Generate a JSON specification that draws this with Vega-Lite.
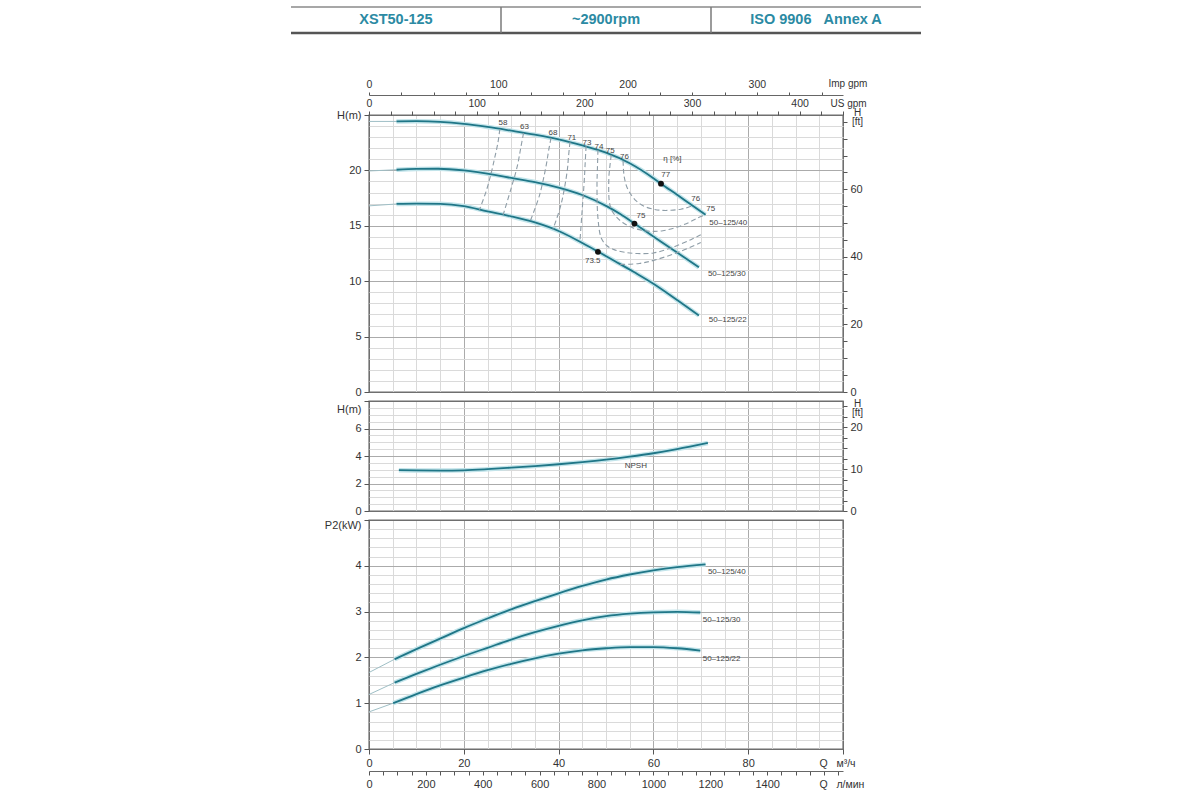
{
 "$schema": "https://vega.github.io/schema/vega-lite/v6.json",
 "padding": {"left": 289, "top": 6, "right": 5, "bottom": 2},
 "background": "white",
 "spacing": 9,
 "bounds": "flush",
 "center": true,
 "datasets": {
  "header": [{"col": 0.5, "t": "XST50-125"}, {"col": 1.5, "t": "~2900rpm"}, {"col": 2.5, "t": "ISO 9906\u00a0\u00a0\u00a0Annex A"}],
  "head": [
   {"pump": "50-125/40", "Q": 5.8, "H": 24.42}, {"pump": "50-125/40", "Q": 10, "H": 24.44}, {"pump": "50-125/40", "Q": 15, "H": 24.38}, {"pump": "50-125/40", "Q": 20, "H": 24.2}, {"pump": "50-125/40", "Q": 25, "H": 23.92}, {"pump": "50-125/40", "Q": 30, "H": 23.58}, {"pump": "50-125/40", "Q": 35, "H": 23.22}, {"pump": "50-125/40", "Q": 40, "H": 22.8}, {"pump": "50-125/40", "Q": 45, "H": 22.25}, {"pump": "50-125/40", "Q": 50, "H": 21.6}, {"pump": "50-125/40", "Q": 55, "H": 20.65}, {"pump": "50-125/40", "Q": 60, "H": 19.3}, {"pump": "50-125/40", "Q": 61.6, "H": 18.8}, {"pump": "50-125/40", "Q": 65, "H": 17.8}, {"pump": "50-125/40", "Q": 68, "H": 16.9}, {"pump": "50-125/40", "Q": 71, "H": 16.0},
   {"pump": "50-125/30", "Q": 5.8, "H": 20.06}, {"pump": "50-125/30", "Q": 10, "H": 20.13}, {"pump": "50-125/30", "Q": 14.6, "H": 20.15}, {"pump": "50-125/30", "Q": 20, "H": 20.0}, {"pump": "50-125/30", "Q": 26.5, "H": 19.6}, {"pump": "50-125/30", "Q": 30, "H": 19.32}, {"pump": "50-125/30", "Q": 35, "H": 18.95}, {"pump": "50-125/30", "Q": 40, "H": 18.45}, {"pump": "50-125/30", "Q": 45, "H": 17.78}, {"pump": "50-125/30", "Q": 50, "H": 16.8}, {"pump": "50-125/30", "Q": 53, "H": 16.07}, {"pump": "50-125/30", "Q": 56, "H": 15.2}, {"pump": "50-125/30", "Q": 60, "H": 14.04}, {"pump": "50-125/30", "Q": 65, "H": 12.59}, {"pump": "50-125/30", "Q": 69.6, "H": 11.25},
   {"pump": "50-125/22", "Q": 5.8, "H": 16.97}, {"pump": "50-125/22", "Q": 10, "H": 17.0}, {"pump": "50-125/22", "Q": 15, "H": 16.98}, {"pump": "50-125/22", "Q": 20, "H": 16.78}, {"pump": "50-125/22", "Q": 25, "H": 16.3}, {"pump": "50-125/22", "Q": 30, "H": 15.85}, {"pump": "50-125/22", "Q": 35, "H": 15.3}, {"pump": "50-125/22", "Q": 40, "H": 14.53}, {"pump": "50-125/22", "Q": 45, "H": 13.45}, {"pump": "50-125/22", "Q": 48.4, "H": 12.65}, {"pump": "50-125/22", "Q": 52, "H": 11.78}, {"pump": "50-125/22", "Q": 56, "H": 10.8}, {"pump": "50-125/22", "Q": 60, "H": 9.77}, {"pump": "50-125/22", "Q": 65, "H": 8.3}, {"pump": "50-125/22", "Q": 69.6, "H": 6.9}
  ],
  "headExt": [
   {"pump": "50-125/40", "Q": 0, "H": 24.42}, {"pump": "50-125/40", "Q": 5.8, "H": 24.42},
   {"pump": "50-125/30", "Q": 0, "H": 19.95}, {"pump": "50-125/30", "Q": 5.8, "H": 20.06},
   {"pump": "50-125/22", "Q": 0, "H": 16.8}, {"pump": "50-125/22", "Q": 5.8, "H": 16.97}
  ],
  "eff": [
   {"line": "58", "i": 1, "Q": 27.6, "H": 23.72}, {"line": "58", "i": 2, "Q": 27.2, "H": 22.5}, {"line": "58", "i": 3, "Q": 26.5, "H": 21.1}, {"line": "58", "i": 4, "Q": 25.8, "H": 19.8}, {"line": "58", "i": 5, "Q": 24.7, "H": 18.1}, {"line": "58", "i": 6, "Q": 23.3, "H": 16.45},
   {"line": "63", "i": 1, "Q": 32.6, "H": 23.37}, {"line": "63", "i": 2, "Q": 32.0, "H": 22.0}, {"line": "63", "i": 3, "Q": 31.3, "H": 20.4}, {"line": "63", "i": 4, "Q": 30.0, "H": 18.4}, {"line": "63", "i": 5, "Q": 28.3, "H": 15.99},
   {"line": "68", "i": 1, "Q": 38.4, "H": 22.93}, {"line": "68", "i": 2, "Q": 37.9, "H": 21.8}, {"line": "68", "i": 3, "Q": 37.4, "H": 20.5}, {"line": "68", "i": 4, "Q": 36.0, "H": 17.8}, {"line": "68", "i": 5, "Q": 34.0, "H": 15.41},
   {"line": "71", "i": 1, "Q": 42.4, "H": 22.56}, {"line": "71", "i": 2, "Q": 42.1, "H": 21.3}, {"line": "71", "i": 3, "Q": 41.8, "H": 19.9}, {"line": "71", "i": 4, "Q": 40.5, "H": 16.9}, {"line": "71", "i": 5, "Q": 38.8, "H": 14.68},
   {"line": "73", "i": 1, "Q": 45.8, "H": 22.19}, {"line": "73", "i": 2, "Q": 45.6, "H": 20.6}, {"line": "73", "i": 3, "Q": 45.4, "H": 19.0}, {"line": "73", "i": 4, "Q": 44.9, "H": 16.0}, {"line": "73", "i": 5, "Q": 44.5, "H": 13.6},
   {"line": "73r", "i": 1, "Q": 53.0, "H": 11.51}, {"line": "73r", "i": 2, "Q": 57.0, "H": 11.6}, {"line": "73r", "i": 3, "Q": 60.2, "H": 11.9}, {"line": "73r", "i": 4, "Q": 65.8, "H": 12.7}, {"line": "73r", "i": 5, "Q": 70.0, "H": 13.5},
   {"line": "74", "i": 1, "Q": 48.3, "H": 21.84}, {"line": "74", "i": 2, "Q": 48.2, "H": 20.3}, {"line": "74", "i": 3, "Q": 48.1, "H": 18.7}, {"line": "74", "i": 4, "Q": 48.3, "H": 15.7}, {"line": "74", "i": 5, "Q": 49.0, "H": 13.9}, {"line": "74", "i": 6, "Q": 50.2, "H": 13.2}, {"line": "74", "i": 7, "Q": 51.7, "H": 12.85}, {"line": "74", "i": 8, "Q": 54.0, "H": 12.6}, {"line": "74", "i": 9, "Q": 56.6, "H": 12.5}, {"line": "74", "i": 10, "Q": 60.0, "H": 12.55}, {"line": "74", "i": 11, "Q": 63.7, "H": 13.0}, {"line": "74", "i": 12, "Q": 67.9, "H": 13.75}, {"line": "74", "i": 13, "Q": 70.0, "H": 14.2},
   {"line": "75", "i": 1, "Q": 51.1, "H": 21.38}, {"line": "75", "i": 2, "Q": 50.8, "H": 20.3}, {"line": "75", "i": 3, "Q": 50.6, "H": 19.3}, {"line": "75", "i": 4, "Q": 50.7, "H": 17.2}, {"line": "75", "i": 5, "Q": 51.2, "H": 16.4}, {"line": "75", "i": 6, "Q": 52.1, "H": 15.85}, {"line": "75", "i": 7, "Q": 53.5, "H": 15.3}, {"line": "75", "i": 8, "Q": 55.5, "H": 14.85}, {"line": "75", "i": 9, "Q": 57.5, "H": 14.6}, {"line": "75", "i": 10, "Q": 59.5, "H": 14.5}, {"line": "75", "i": 11, "Q": 62.0, "H": 14.55}, {"line": "75", "i": 12, "Q": 65.1, "H": 14.9}, {"line": "75", "i": 13, "Q": 67.5, "H": 15.3}, {"line": "75", "i": 14, "Q": 69.3, "H": 15.7}, {"line": "75", "i": 15, "Q": 71.0, "H": 16.0},
   {"line": "76", "i": 1, "Q": 53.6, "H": 20.88}, {"line": "76", "i": 2, "Q": 53.7, "H": 20.0}, {"line": "76", "i": 3, "Q": 53.9, "H": 19.3}, {"line": "76", "i": 4, "Q": 54.4, "H": 18.5}, {"line": "76", "i": 5, "Q": 55.3, "H": 17.8}, {"line": "76", "i": 6, "Q": 56.5, "H": 17.2}, {"line": "76", "i": 7, "Q": 58.1, "H": 16.75}, {"line": "76", "i": 8, "Q": 60.0, "H": 16.5}, {"line": "76", "i": 9, "Q": 61.6, "H": 16.4}, {"line": "76", "i": 10, "Q": 63.7, "H": 16.4}, {"line": "76", "i": 11, "Q": 65.8, "H": 16.5}, {"line": "76", "i": 12, "Q": 67.2, "H": 16.65}, {"line": "76", "i": 13, "Q": 68.3, "H": 16.81}
  ],
  "bep": [
   {"pump": "50-125/40", "Q": 61.6, "H": 18.8, "eta": 77},
   {"pump": "50-125/30", "Q": 56.0, "H": 15.2, "eta": 75},
   {"pump": "50-125/22", "Q": 48.3, "H": 12.65, "eta": 73.5}
  ],
  "effLabels": [
   {"t": "58", "Q": 28.25, "H": 24.3}, {"t": "63", "Q": 32.8, "H": 23.95}, {"t": "68", "Q": 38.8, "H": 23.42}, {"t": "71", "Q": 42.8, "H": 22.92}, {"t": "73", "Q": 46.0, "H": 22.5}, {"t": "74", "Q": 48.5, "H": 22.15}, {"t": "75", "Q": 50.9, "H": 21.75}, {"t": "76", "Q": 53.9, "H": 21.2},
   {"t": "η [%]", "Q": 64.0, "H": 21.05}, {"t": "77", "Q": 62.6, "H": 19.55}, {"t": "76", "Q": 68.95, "H": 17.4}, {"t": "75", "Q": 72.1, "H": 16.5}, {"t": "75", "Q": 57.4, "H": 15.85}, {"t": "73.5", "Q": 47.2, "H": 11.85}
  ],
  "headLabels": [
   {"t": "50–125/40", "Q": 71.8, "H": 15.25}, {"t": "50–125/30", "Q": 71.5, "H": 10.68}, {"t": "50–125/22", "Q": 71.7, "H": 6.53}
  ],
  "npsh": [
   {"Q": 6.3, "NPSH": 2.97}, {"Q": 10, "NPSH": 2.95}, {"Q": 15, "NPSH": 2.94}, {"Q": 20, "NPSH": 2.96}, {"Q": 25, "NPSH": 3.04}, {"Q": 30, "NPSH": 3.15}, {"Q": 35, "NPSH": 3.27}, {"Q": 40, "NPSH": 3.4}, {"Q": 45, "NPSH": 3.55}, {"Q": 50, "NPSH": 3.73}, {"Q": 55, "NPSH": 3.95}, {"Q": 60, "NPSH": 4.2}, {"Q": 65, "NPSH": 4.5}, {"Q": 71.5, "NPSH": 4.95}
  ],
  "npshLabel": [{"t": "NPSH", "Q": 56.3, "NPSH": 3.3}],
  "power": [
   {"pump": "50-125/40", "Q": 5.4, "P": 1.96}, {"pump": "50-125/40", "Q": 10, "P": 2.18}, {"pump": "50-125/40", "Q": 15, "P": 2.41}, {"pump": "50-125/40", "Q": 20, "P": 2.64}, {"pump": "50-125/40", "Q": 25, "P": 2.85}, {"pump": "50-125/40", "Q": 30, "P": 3.05}, {"pump": "50-125/40", "Q": 35, "P": 3.23}, {"pump": "50-125/40", "Q": 40, "P": 3.4}, {"pump": "50-125/40", "Q": 45, "P": 3.56}, {"pump": "50-125/40", "Q": 50, "P": 3.7}, {"pump": "50-125/40", "Q": 55, "P": 3.81}, {"pump": "50-125/40", "Q": 60, "P": 3.9}, {"pump": "50-125/40", "Q": 65, "P": 3.97}, {"pump": "50-125/40", "Q": 71, "P": 4.03},
   {"pump": "50-125/30", "Q": 5.4, "P": 1.45}, {"pump": "50-125/30", "Q": 10, "P": 1.64}, {"pump": "50-125/30", "Q": 15, "P": 1.84}, {"pump": "50-125/30", "Q": 20, "P": 2.03}, {"pump": "50-125/30", "Q": 25, "P": 2.21}, {"pump": "50-125/30", "Q": 30, "P": 2.39}, {"pump": "50-125/30", "Q": 35, "P": 2.55}, {"pump": "50-125/30", "Q": 40, "P": 2.69}, {"pump": "50-125/30", "Q": 45, "P": 2.81}, {"pump": "50-125/30", "Q": 50, "P": 2.9}, {"pump": "50-125/30", "Q": 55, "P": 2.955}, {"pump": "50-125/30", "Q": 60, "P": 2.985}, {"pump": "50-125/30", "Q": 65, "P": 2.995}, {"pump": "50-125/30", "Q": 69.9, "P": 2.98},
   {"pump": "50-125/22", "Q": 5.1, "P": 1.0}, {"pump": "50-125/22", "Q": 10, "P": 1.2}, {"pump": "50-125/22", "Q": 15, "P": 1.39}, {"pump": "50-125/22", "Q": 20, "P": 1.56}, {"pump": "50-125/22", "Q": 25, "P": 1.72}, {"pump": "50-125/22", "Q": 30, "P": 1.86}, {"pump": "50-125/22", "Q": 35, "P": 1.98}, {"pump": "50-125/22", "Q": 40, "P": 2.08}, {"pump": "50-125/22", "Q": 45, "P": 2.155}, {"pump": "50-125/22", "Q": 50, "P": 2.2}, {"pump": "50-125/22", "Q": 55, "P": 2.225}, {"pump": "50-125/22", "Q": 60, "P": 2.225}, {"pump": "50-125/22", "Q": 65, "P": 2.2}, {"pump": "50-125/22", "Q": 69.9, "P": 2.15}
  ],
  "powerExt": [
   {"pump": "50-125/40", "Q": 0, "P": 1.67}, {"pump": "50-125/40", "Q": 5.4, "P": 1.96},
   {"pump": "50-125/30", "Q": 0, "P": 1.19}, {"pump": "50-125/30", "Q": 5.4, "P": 1.45},
   {"pump": "50-125/22", "Q": 0, "P": 0.81}, {"pump": "50-125/22", "Q": 5.1, "P": 1.0}
  ],
  "powerLabels": [
   {"t": "50–125/40", "Q": 71.5, "P": 3.86}, {"t": "50–125/30", "Q": 70.4, "P": 2.82}, {"t": "50–125/22", "Q": 70.4, "P": 1.97}
  ]
 },
 "vconcat": [
  {
   "width": 630, "height": 99,
   "view": {"stroke": null},
   "layer": [
    {"data": {"name": "header"},
     "mark": {"type": "text", "font": "Liberation Sans", "fontWeight": "bold", "fontSize": 14.5, "color": "#2b8aa3", "baseline": "middle"},
     "encoding": {
      "x": {"field": "col", "type": "quantitative", "scale": {"domain": [0, 3], "nice": false}, "axis": null},
      "y": {"datum": 86, "type": "quantitative", "scale": {"domain": [0, 99], "nice": false}, "axis": null},
      "text": {"field": "t"}}},
    {"data": {"values": [{}]},
     "mark": {"type": "rule", "color": "#8a8a8a", "strokeWidth": 1.5},
     "encoding": {
      "x": {"datum": 0, "type": "quantitative"},
      "x2": {"datum": 3},
      "y": {"datum": 99, "type": "quantitative"}}},
    {"data": {"values": [{}]},
     "mark": {"type": "rule", "color": "#555555", "strokeWidth": 2.5},
     "encoding": {
      "x": {"datum": 0, "type": "quantitative"},
      "x2": {"datum": 3},
      "y": {"datum": 73, "type": "quantitative"}}},
    {"data": {"values": [{}]},
     "mark": {"type": "rule", "color": "#7a7a7a", "strokeWidth": 1.5},
     "encoding": {
      "x": {"datum": 1, "type": "quantitative"},
      "y": {"datum": 73, "type": "quantitative"},
      "y2": {"datum": 99}}},
    {"data": {"values": [{}]},
     "mark": {"type": "rule", "color": "#7a7a7a", "strokeWidth": 1.5},
     "encoding": {
      "x": {"datum": 2, "type": "quantitative"},
      "y": {"datum": 73, "type": "quantitative"},
      "y2": {"datum": 99}}}
   ]
  },
  {
   "width": 474, "height": 277,
   "resolve": {"scale": {"x": "independent", "y": "independent"}},
   "layer": [
    {"data": {"name": "head"},
     "mark": {"type": "line", "color": "#c2e4ea", "strokeWidth": 4.5, "interpolate": "monotone"},
     "encoding": {
      "x": {"field": "Q", "type": "quantitative", "scale": {"domain": [0, 100], "nice": false, "zero": false},
       "axis": {"orient": "bottom", "values": [0,5,10,15,20,25,30,35,40,45,50,55,60,65,70,75,80,85,90,95,100], "labels": false, "ticks": false, "domain": false, "grid": true, "title": null,
        "gridColor": {"condition": [{"test": "datum.value === 0 || datum.value === 100", "value": "#6f6f6f"}, {"test": "datum.value % 20 === 0", "value": "#ababab"}], "value": "#dadada"}}},
      "y": {"field": "H", "type": "quantitative", "scale": {"domain": [0, 25], "nice": false},
       "axis": {"orient": "left", "values": [0,1,2,3,4,5,6,7,8,9,10,11,12,13,14,15,16,17,18,19,20,21,22,23,24,25], "labelExpr": "datum.value === 25 ? 'H(m)' : (datum.value % 5 === 0 ? format(datum.value, 'd') : '')", "labelOverlap": false, "domain": false, "grid": true, "title": null,
        "tickSize": {"condition": {"test": "datum.value % 5 === 0", "value": 5}, "value": 0},
        "gridColor": {"condition": [{"test": "datum.value === 0 || datum.value === 25", "value": "#6f6f6f"}, {"test": "datum.value % 5 === 0", "value": "#ababab"}], "value": "#dadada"}}},
      "detail": {"field": "pump"}}},
    {"data": {"name": "headExt"},
     "mark": {"type": "line", "color": "#9fbfc6", "strokeWidth": 1},
     "encoding": {
      "x": {"field": "Q", "type": "quantitative", "scale": {"domain": [0, 100], "nice": false, "zero": false}, "axis": null},
      "y": {"field": "H", "type": "quantitative", "scale": {"domain": [0, 25], "nice": false}, "axis": null},
      "detail": {"field": "pump"}}},
    {"data": {"name": "head"},
     "mark": {"type": "line", "color": "#1f7687", "strokeWidth": 1.8, "interpolate": "monotone"},
     "encoding": {
      "x": {"field": "Q", "type": "quantitative", "scale": {"domain": [0, 100], "nice": false, "zero": false}, "axis": null},
      "y": {"field": "H", "type": "quantitative", "scale": {"domain": [0, 25], "nice": false}, "axis": null},
      "detail": {"field": "pump"}}},
    {"data": {"name": "eff"},
     "mark": {"type": "line", "color": "#8e9da7", "strokeWidth": 1.1, "strokeDash": [5, 3], "interpolate": "catmull-rom"},
     "encoding": {
      "x": {"field": "Q", "type": "quantitative", "scale": {"domain": [0, 100], "nice": false, "zero": false}, "axis": null},
      "y": {"field": "H", "type": "quantitative", "scale": {"domain": [0, 25], "nice": false}, "axis": null},
      "detail": {"field": "line"},
      "order": {"field": "i", "type": "quantitative"}}},
    {"data": {"name": "bep"},
     "mark": {"type": "point", "filled": true, "color": "#111111", "size": 34, "opacity": 1},
     "encoding": {
      "x": {"field": "Q", "type": "quantitative", "scale": {"domain": [0, 100], "nice": false, "zero": false}, "axis": null},
      "y": {"field": "H", "type": "quantitative", "scale": {"domain": [0, 25], "nice": false}, "axis": null}}},
    {"data": {"name": "effLabels"},
     "mark": {"type": "text", "fontSize": 8, "color": "#444444", "font": "Liberation Sans", "baseline": "middle"},
     "encoding": {
      "x": {"field": "Q", "type": "quantitative", "scale": {"domain": [0, 100], "nice": false, "zero": false}, "axis": null},
      "y": {"field": "H", "type": "quantitative", "scale": {"domain": [0, 25], "nice": false}, "axis": null},
      "text": {"field": "t"}}},
    {"data": {"name": "headLabels"},
     "mark": {"type": "text", "fontSize": 8, "color": "#444444", "font": "Liberation Sans", "align": "left", "baseline": "middle"},
     "encoding": {
      "x": {"field": "Q", "type": "quantitative", "scale": {"domain": [0, 100], "nice": false, "zero": false}, "axis": null},
      "y": {"field": "H", "type": "quantitative", "scale": {"domain": [0, 25], "nice": false}, "axis": null},
      "text": {"field": "t"}}},
    {"data": {"values": [{}]},
     "mark": {"type": "point", "opacity": 0},
     "encoding": {
      "x": {"datum": 0, "type": "quantitative", "scale": {"domain": [0, 100], "nice": false}, "axis": null},
      "y": {"datum": 0, "type": "quantitative", "scale": {"domain": [0, 82.021], "nice": false},
       "axis": {"orient": "right", "values": [0,5,10,15,20,25,30,35,40,45,50,55,60,65,70,75,80], "labelExpr": "datum.value % 20 === 0 && datum.value < 80 ? format(datum.value, 'd') : ''", "labelOverlap": false, "tickSize": 4, "domain": false, "grid": false,
        "title": ["H", "[ft]"], "titleAngle": 0, "titleAlign": "center", "titleBaseline": "top", "titleX": 14, "titleY": -8, "titleFontSize": 10, "titleLineHeight": 9.5}}}},
    {"data": {"values": [{}]},
     "mark": {"type": "point", "opacity": 0},
     "encoding": {
      "y": {"datum": 0, "type": "quantitative", "scale": {"domain": [0, 25], "nice": false}, "axis": null},
      "x": {"datum": 0, "type": "quantitative", "scale": {"domain": [0, 440.29], "nice": false},
       "axis": {"orient": "top", "values": [0,20,40,60,80,100,120,140,160,180,200,220,240,260,280,300,320,340,360,380,400,420,440], "labelExpr": "datum.value % 100 === 0 ? format(datum.value, 'd') : ''", "labelOverlap": false, "labelFlush": false, "tickSize": 4, "domain": false, "grid": false, "labelFontSize": 10.5,
        "title": "US gpm", "titleAngle": 0, "titleAlign": "left", "titleBaseline": "middle", "titleX": 461, "titleY": -12, "titleFontSize": 10}}}},
    {"data": {"values": [{}]},
     "mark": {"type": "point", "opacity": 0},
     "encoding": {
      "y": {"datum": 0, "type": "quantitative", "scale": {"domain": [0, 25], "nice": false}, "axis": null},
      "x": {"datum": 0, "type": "quantitative", "scale": {"domain": [0, 366.6], "nice": false},
       "axis": {"orient": "top", "offset": 20, "values": [0,25,50,75,100,125,150,175,200,225,250,275,300,325,350], "labelExpr": "datum.value % 100 === 0 ? format(datum.value, 'd') : ''", "labelOverlap": false, "labelFlush": false, "tickSize": 3, "domain": true, "domainColor": "#666666", "grid": false, "labelFontSize": 10.5,
        "title": "Imp gpm", "titleAngle": 0, "titleAlign": "left", "titleBaseline": "middle", "titleX": 459, "titleY": -12, "titleFontSize": 10}}}}
   ]
  },
  {
   "width": 474, "height": 110,
   "resolve": {"scale": {"x": "independent", "y": "independent"}},
   "layer": [
    {"data": {"name": "npsh"},
     "mark": {"type": "line", "color": "#c2e4ea", "strokeWidth": 4.5, "interpolate": "monotone"},
     "encoding": {
      "x": {"field": "Q", "type": "quantitative", "scale": {"domain": [0, 100], "nice": false, "zero": false},
       "axis": {"orient": "bottom", "values": [0,5,10,15,20,25,30,35,40,45,50,55,60,65,70,75,80,85,90,95,100], "labels": false, "ticks": false, "domain": false, "grid": true, "title": null,
        "gridColor": {"condition": [{"test": "datum.value === 0 || datum.value === 100", "value": "#6f6f6f"}, {"test": "datum.value % 20 === 0", "value": "#ababab"}], "value": "#dadada"}}},
      "y": {"field": "NPSH", "type": "quantitative", "scale": {"domain": [0, 8], "nice": false},
       "axis": {"orient": "left", "values": [0,0.5,1,1.5,2,2.5,3,3.5,4,4.5,5,5.5,6,6.5,7,7.5,8], "labelExpr": "datum.value === 8 ? 'H(m)' : (datum.value % 2 === 0 ? format(datum.value, 'd') : '')", "labelOverlap": false, "domain": false, "grid": true, "title": null,
        "labelOffset": {"condition": {"test": "datum.value === 8", "value": 8}, "value": 0},
        "tickSize": {"condition": {"test": "datum.value % 2 === 0", "value": 5}, "value": 0},
        "gridColor": {"condition": [{"test": "datum.value === 0 || datum.value === 8", "value": "#6f6f6f"}, {"test": "datum.value % 2 === 0", "value": "#ababab"}], "value": "#dadada"}}}}},
    {"data": {"name": "npsh"},
     "mark": {"type": "line", "color": "#1f7687", "strokeWidth": 1.8, "interpolate": "monotone"},
     "encoding": {
      "x": {"field": "Q", "type": "quantitative", "scale": {"domain": [0, 100], "nice": false, "zero": false}, "axis": null},
      "y": {"field": "NPSH", "type": "quantitative", "scale": {"domain": [0, 8], "nice": false}, "axis": null}}},
    {"data": {"name": "npshLabel"},
     "mark": {"type": "text", "fontSize": 8, "color": "#444444", "font": "Liberation Sans", "baseline": "middle"},
     "encoding": {
      "x": {"field": "Q", "type": "quantitative", "scale": {"domain": [0, 100], "nice": false, "zero": false}, "axis": null},
      "y": {"field": "NPSH", "type": "quantitative", "scale": {"domain": [0, 8], "nice": false}, "axis": null},
      "text": {"field": "t"}}},
    {"data": {"values": [{}]},
     "mark": {"type": "point", "opacity": 0},
     "encoding": {
      "x": {"datum": 0, "type": "quantitative", "scale": {"domain": [0, 100], "nice": false}, "axis": null},
      "y": {"datum": 0, "type": "quantitative", "scale": {"domain": [0, 26.247], "nice": false},
       "axis": {"orient": "right", "values": [0,2.5,5,7.5,10,12.5,15,17.5,20,22.5,25], "labelExpr": "datum.value % 10 === 0 ? format(datum.value, 'd') : ''", "labelOverlap": false, "tickSize": 4, "domain": false, "grid": false,
        "title": ["H", "[ft]"], "titleAngle": 0, "titleAlign": "center", "titleBaseline": "top", "titleX": 14, "titleY": -3, "titleFontSize": 10, "titleLineHeight": 9.5}}}}
   ]
  },
  {
   "width": 474, "height": 229,
   "resolve": {"scale": {"x": "independent", "y": "independent"}},
   "layer": [
    {"data": {"name": "power"},
     "mark": {"type": "line", "color": "#c2e4ea", "strokeWidth": 4.5, "interpolate": "monotone"},
     "encoding": {
      "x": {"field": "Q", "type": "quantitative", "scale": {"domain": [0, 100], "nice": false, "zero": false},
       "axis": {"orient": "bottom", "values": [0,5,10,15,20,25,30,35,40,45,50,55,60,65,70,75,80,85,90,95,100], "labelExpr": "datum.value % 20 === 0 && datum.value < 100 ? format(datum.value, 'd') : ''", "labelOverlap": false, "labelFlush": false, "domain": false, "grid": true,
        "tickSize": {"condition": {"test": "datum.value % 20 === 0", "value": 5}, "value": 0},
        "gridColor": {"condition": [{"test": "datum.value === 0 || datum.value === 100", "value": "#6f6f6f"}, {"test": "datum.value % 20 === 0", "value": "#ababab"}], "value": "#dadada"},
        "title": "Q\u00a0\u00a0\u00a0м³/ч", "titleAngle": 0, "titleAlign": "left", "titleBaseline": "middle", "titleX": 450, "titleY": 14, "titleFontSize": 10.5}},
      "y": {"field": "P", "type": "quantitative", "scale": {"domain": [0, 5], "nice": false},
       "axis": {"orient": "left", "values": [0,0.2,0.4,0.6,0.8,1,1.2,1.4,1.6,1.8,2,2.2,2.4,2.6,2.8,3,3.2,3.4,3.6,3.8,4,4.2,4.4,4.6,4.8,5], "labelExpr": "datum.value === 5 ? 'P2(kW)' : (datum.value % 1 === 0 ? format(datum.value, 'd') : '')", "labelOverlap": false, "domain": false, "grid": true, "title": null,
        "labelOffset": {"condition": {"test": "datum.value === 5", "value": 5}, "value": 0},
        "tickSize": {"condition": {"test": "datum.value % 1 === 0", "value": 5}, "value": 0},
        "gridColor": {"condition": [{"test": "datum.value === 0 || datum.value === 5", "value": "#6f6f6f"}, {"test": "datum.value % 1 === 0", "value": "#ababab"}], "value": "#dadada"}}},
      "detail": {"field": "pump"}}},
    {"data": {"name": "powerExt"},
     "mark": {"type": "line", "color": "#9fbfc6", "strokeWidth": 1},
     "encoding": {
      "x": {"field": "Q", "type": "quantitative", "scale": {"domain": [0, 100], "nice": false, "zero": false}, "axis": null},
      "y": {"field": "P", "type": "quantitative", "scale": {"domain": [0, 5], "nice": false}, "axis": null},
      "detail": {"field": "pump"}}},
    {"data": {"name": "power"},
     "mark": {"type": "line", "color": "#1f7687", "strokeWidth": 1.8, "interpolate": "monotone"},
     "encoding": {
      "x": {"field": "Q", "type": "quantitative", "scale": {"domain": [0, 100], "nice": false, "zero": false}, "axis": null},
      "y": {"field": "P", "type": "quantitative", "scale": {"domain": [0, 5], "nice": false}, "axis": null},
      "detail": {"field": "pump"}}},
    {"data": {"name": "powerLabels"},
     "mark": {"type": "text", "fontSize": 8, "color": "#444444", "font": "Liberation Sans", "align": "left", "baseline": "middle"},
     "encoding": {
      "x": {"field": "Q", "type": "quantitative", "scale": {"domain": [0, 100], "nice": false, "zero": false}, "axis": null},
      "y": {"field": "P", "type": "quantitative", "scale": {"domain": [0, 5], "nice": false}, "axis": null},
      "text": {"field": "t"}}},
    {"data": {"values": [{}]},
     "mark": {"type": "point", "opacity": 0},
     "encoding": {
      "y": {"datum": 0, "type": "quantitative", "scale": {"domain": [0, 5], "nice": false}, "axis": null},
      "x": {"datum": 0, "type": "quantitative", "scale": {"domain": [0, 1666.67], "nice": false},
       "axis": {"orient": "bottom", "offset": 22, "values": [0,50,100,150,200,250,300,350,400,450,500,550,600,650,700,750,800,850,900,950,1000,1050,1100,1150,1200,1250,1300,1350,1400,1450,1500,1550,1600,1650], "labelExpr": "datum.value % 200 === 0 && datum.value < 1600 ? format(datum.value, 'd') : ''", "labelOverlap": false, "labelFlush": false, "tickSize": 4, "domain": true, "domainColor": "#666666", "grid": false,
        "title": "Q\u00a0\u00a0\u00a0л/мин", "titleAngle": 0, "titleAlign": "left", "titleBaseline": "middle", "titleX": 450, "titleY": 13, "titleFontSize": 10.5}}}}
   ]
  }
 ],
 "config": {
  "view": {"stroke": "#6f6f6f", "strokeWidth": 1.4},
  "font": "Liberation Sans",
  "axis": {"labelFont": "Liberation Sans", "labelFontSize": 11, "labelColor": "#333333", "tickColor": "#555555", "titleFont": "Liberation Sans", "titleFontWeight": "normal", "titleColor": "#333333", "gridWidth": 1, "labelPadding": 3, "labelFlush": false},
  "text": {"font": "Liberation Sans"}
 }
}
